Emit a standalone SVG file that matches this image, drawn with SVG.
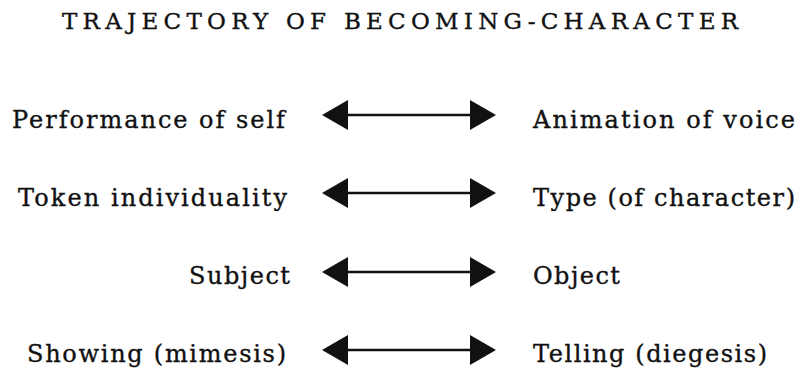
<svg xmlns="http://www.w3.org/2000/svg" width="801" height="372" viewBox="0 0 801 372">
<style>
.t{font-family:"DejaVu Serif","Liberation Serif",serif;font-size:24px;fill:#111;stroke:#111;stroke-width:0.35;}
.h{font-family:"DejaVu Serif","Liberation Serif",serif;font-size:23px;fill:#111;stroke:#111;stroke-width:0.35;}
.c{stroke:#111;stroke-width:2.5;fill:none;}
</style>
<defs>
<marker id="ah" markerUnits="userSpaceOnUse" markerWidth="26" markerHeight="30" refX="0" refY="15" orient="auto-start-reverse" viewBox="0 0 26 30">
<path d="M0,0 L26,15 L0,30 Z" fill="#111"/>
</marker>
</defs>
<rect width="801" height="372" fill="#fff"/>
<g id="title"><text class="h" x="62" y="29" textLength="676" lengthAdjust="spacing">TRAJECTORY OF BECOMING-CHARACTER</text></g>
<g id="connectors">
<line class="c" x1="348" y1="115" x2="470" y2="115" marker-start="url(#ah)" marker-end="url(#ah)"/>
<line class="c" x1="348" y1="193" x2="470" y2="193" marker-start="url(#ah)" marker-end="url(#ah)"/>
<line class="c" x1="348" y1="272" x2="470" y2="272" marker-start="url(#ah)" marker-end="url(#ah)"/>
<line class="c" x1="348" y1="350" x2="470" y2="350" marker-start="url(#ah)" marker-end="url(#ah)"/>
</g>
<g id="n-performance"><text class="t" x="12" y="128" textLength="273" lengthAdjust="spacing">Performance of self</text></g>
<g id="n-animation"><text class="t" x="533" y="128" textLength="262" lengthAdjust="spacing">Animation of voice</text></g>
<g id="n-token"><text class="t" x="18" y="206" textLength="269" lengthAdjust="spacing">Token individuality</text></g>
<g id="n-type"><text class="t" x="533" y="206" textLength="262" lengthAdjust="spacing">Type (of character)</text></g>
<g id="n-subject"><text class="t" x="189" y="284" textLength="101" lengthAdjust="spacing">Subject</text></g>
<g id="n-object"><text class="t" x="533" y="284" textLength="87" lengthAdjust="spacing">Object</text></g>
<g id="n-showing"><text class="t" x="27" y="362" textLength="259" lengthAdjust="spacing">Showing (mimesis)</text></g>
<g id="n-telling"><text class="t" x="533" y="362" textLength="234" lengthAdjust="spacing">Telling (diegesis)</text></g>
</svg>
